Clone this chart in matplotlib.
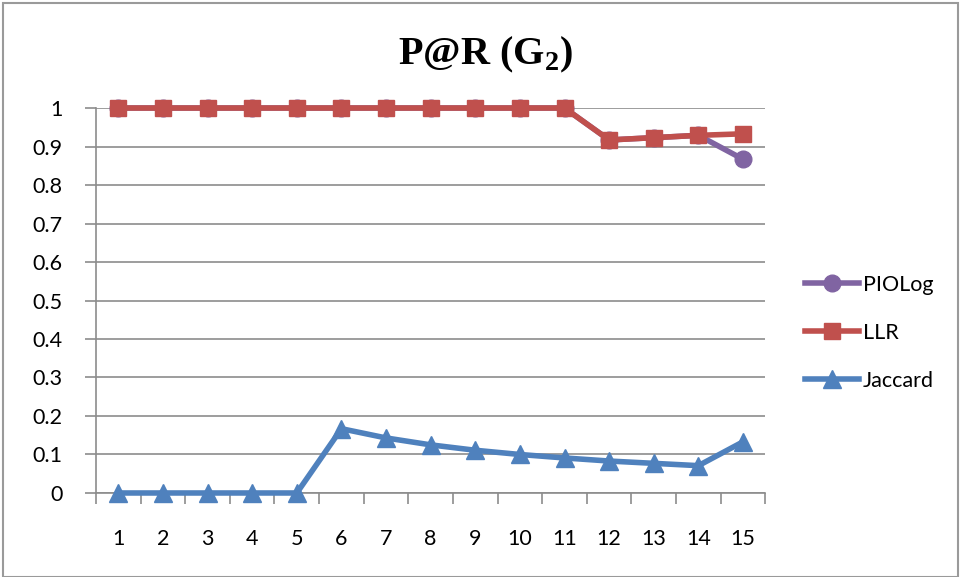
import matplotlib
matplotlib.use("Agg")
import matplotlib.pyplot as plt
from matplotlib.patches import Rectangle
from matplotlib.lines import Line2D

ranks = list(range(1, 16))
piolog = [1, 1, 1, 1, 1, 1, 1, 1, 1, 1, 1, 0.917, 0.923, 0.929, 0.867]
llr = [1, 1, 1, 1, 1, 1, 1, 1, 1, 1, 1, 0.917, 0.923, 0.929, 0.933]
jaccard = [0, 0, 0, 0, 0, 0.167, 0.143, 0.125, 0.111, 0.1, 0.091, 0.083, 0.077, 0.071, 0.133]
y_ticks = [0, 0.1, 0.2, 0.3, 0.4, 0.5, 0.6, 0.7, 0.8, 0.9, 1]
y_labels = ["0", "0.1", "0.2", "0.3", "0.4", "0.5", "0.6", "0.7", "0.8", "0.9", "1"]

font = ["Lato", "DejaVu Sans"]
grid_c = "#8c8c8c"
fs = 15.5

fig = plt.figure(figsize=(9.61, 5.77), dpi=100)
fig.patches.append(Rectangle((0.003, 0.0), 0.994, 0.994, transform=fig.transFigure,
                             fill=False, edgecolor="#9a9a9a", linewidth=1.5))

ax = fig.add_axes([0.0999, 0.1456, 0.6965, 0.6672])
ax.set_xlim(0.5, 15.5)
ax.set_ylim(0, 1)

ax.plot(ranks, piolog, color="#8064A2", lw=4, marker="o", ms=12, label="PIOLog",
        zorder=3, clip_on=False)
ax.plot(ranks, llr, color="#C0504D", lw=4, marker="s", ms=12, label="LLR",
        zorder=4, clip_on=False)
ax.plot(ranks, jaccard, color="#4F81BD", lw=4, marker="^", ms=13, label="Jaccard",
        zorder=5, clip_on=False)

ax.set_yticks(y_ticks)
ax.set_yticklabels(y_labels, fontfamily=font, fontsize=fs)
ax.set_xticks(ranks)
ax.set_xticklabels([str(r) for r in ranks], fontfamily=font, fontsize=fs)
ax.set_xticks([r + 0.5 for r in range(0, 16)], minor=True)
ax.tick_params(axis="x", which="major", length=0, pad=26)
ax.tick_params(axis="x", which="minor", length=8, width=1.2, color=grid_c, direction="out")
ax.tick_params(axis="y", length=8, width=1.2, color=grid_c, direction="out", pad=16)
for lab in ax.get_yticklabels():
    lab.set_horizontalalignment("right")

ax.grid(axis="y", color=grid_c, lw=1.2)
ax.set_axisbelow(True)
for s in ["top", "right"]:
    ax.spines[s].set_visible(False)
for s in ["left", "bottom"]:
    ax.spines[s].set_color(grid_c)
    ax.spines[s].set_linewidth(1.2)

fig.text(0.505, 0.905, r"P@R (G$_\mathregular{2}$)", ha="center", va="center",
         fontfamily="Liberation Serif", fontweight="bold", fontsize=29)

handles = [
    Line2D([], [], color="#8064A2", lw=4, marker="o", ms=12),
    Line2D([], [], color="#C0504D", lw=4, marker="s", ms=12),
    Line2D([], [], color="#4F81BD", lw=4, marker="^", ms=13),
]
fig.legend(handles, ["PIOLog", "LLR", "Jaccard"], loc="center left",
           bbox_to_anchor=(0.818, 0.423), frameon=False, handlelength=2.5,
           handletextpad=0.15, labelspacing=1.3, prop={"family": font, "size": fs})

fig.savefig("out.png", dpi=100)
